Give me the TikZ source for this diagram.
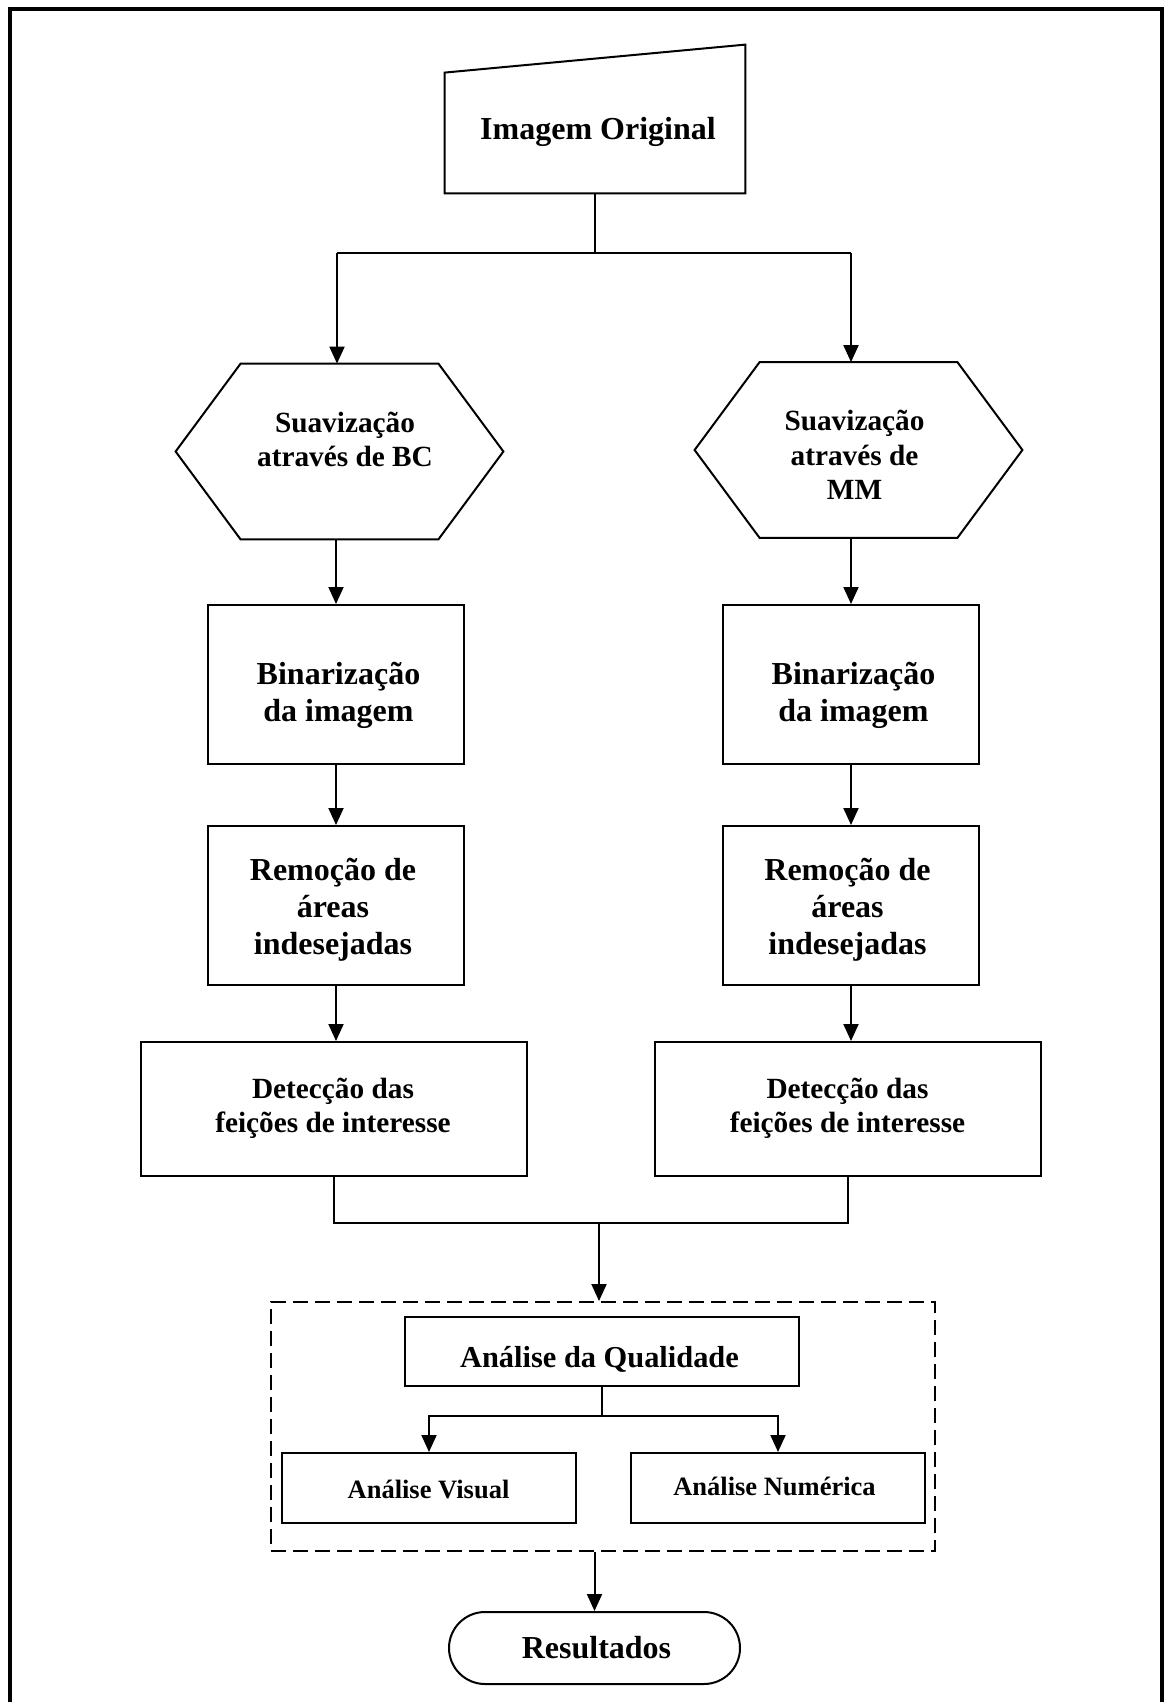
\documentclass[tikz,border=0pt]{standalone}
\usepackage{fontspec}
\setmainfont{Liberation Serif}
\usetikzlibrary{arrows.meta,calc}
\begin{document}
\begin{tikzpicture}[x=0.5pt,y=-0.5pt,
  ghost/.style={rectangle,inner sep=0pt},
  box/.style={rectangle,draw,line width=1pt,inner sep=0pt},
  ln/.style={line width=1pt},
  arr/.style={line width=1pt,-{Triangle[length=8.5pt,width=7.5pt]}},
  txtbig/.style={align=center,inner sep=0pt,font=\bfseries\fontsize{16}{18.5}\selectfont},
  txtmid/.style={align=center,inner sep=0pt,font=\bfseries\fontsize{14.65}{17.2}\selectfont},
  txtqual/.style={align=center,inner sep=0pt,font=\bfseries\fontsize{15.2}{18}\selectfont},
  txtsmall/.style={align=center,inner sep=0pt,font=\bfseries\fontsize{13.25}{16}\selectfont}]
\useasboundingbox (0,0) rectangle (1163,1702);
% outer frame
\draw[line width=2pt] (10,1702) -- (10,9) -- (1162,9) -- (1162,1702);

% Imagem Original (manual input shape)
\node[ghost,minimum width=150pt,minimum height=60pt] (orig) at (595,133) {};
\draw[ln] (orig.south west) -- (orig.north west) -- ($(orig.north east)+(0,-28)$) -- (orig.south east) -- cycle;
\node[txtbig] (origt) at (598,132) {Imagem Original};

% hexagons
\node[ghost,minimum width=163.5pt,minimum height=87.5pt] (hexL) at (339.5,451.5) {};
\draw[ln] (hexL.west) -- ($(hexL.north west)+(65,0)$) -- ($(hexL.north east)+(-65,0)$) -- (hexL.east) -- ($(hexL.south east)+(-65,0)$) -- ($(hexL.south west)+(65,0)$) -- cycle;
\node[txtmid] (hexLt) at (345,439.5) {Suavização\\através de BC};

\node[ghost,minimum width=163.5pt,minimum height=87.5pt] (hexR) at (858.5,450) {};
\draw[ln] (hexR.west) -- ($(hexR.north west)+(65,0)$) -- ($(hexR.north east)+(-65,0)$) -- (hexR.east) -- ($(hexR.south east)+(-65,0)$) -- ($(hexR.south west)+(65,0)$) -- cycle;
\node[txtmid] (hexRt) at (854.5,455) {Suavização\\através de\\MM};

% Binarizacao
\node[box,minimum width=128pt,minimum height=79.5pt] (binL) at (336,684.5) {};
\node[txtbig] (binLt) at (338.5,695) {Binarização\\da imagem};
\node[box,minimum width=128pt,minimum height=79.5pt] (binR) at (851,684.5) {};
\node[txtbig] (binRt) at (853.5,695) {Binarização\\da imagem};

% Remocao
\node[box,minimum width=128pt,minimum height=79.5pt] (remL) at (336,905.5) {};
\node[txtbig] (remLt) at (333,910) {Remoção de\\áreas\\indesejadas};
\node[box,minimum width=128pt,minimum height=79.5pt] (remR) at (851,905.5) {};
\node[txtbig] (remRt) at (847.5,910) {Remoção de\\áreas\\indesejadas};

% Deteccao
\node[box,minimum width=193pt,minimum height=67pt] (detL) at (334,1109) {};
\node[txtmid] (detLt) at (333,1108.5) {Detecção das\\feições de interesse};
\node[box,minimum width=193pt,minimum height=67pt] (detR) at (848,1109) {};
\node[txtmid] (detRt) at (847.5,1108.5) {Detecção das\\feições de interesse};

% dashed group
\node[rectangle,draw,line width=1pt,dash pattern=on 7.5pt off 3.5pt,inner sep=0pt,minimum width=332pt,minimum height=124.5pt] (grp) at (603,1426.5) {};
\node[box,minimum width=197pt,minimum height=34.5pt] (qual) at (602,1351.5) {};
\node[txtqual] (qualt) at (599.5,1359) {Análise da Qualidade};
\node[box,minimum width=147pt,minimum height=35pt] (vis) at (429,1488) {};
\node[txtsmall] (vist) at (428.5,1489) {Análise Visual};
\node[box,minimum width=147pt,minimum height=35pt] (num) at (778,1488) {};
\node[txtsmall] (numt) at (774.5,1486) {Análise Numérica};

% Resultados
\node[rectangle,draw,line width=1pt,rounded corners=18pt,inner sep=0pt,minimum width=145.5pt,minimum height=36pt] (res) at (594.5,1648) {};
\node[txtbig] (rest) at (596.5,1648) {Resultados};

% connectors
\coordinate (brL) at (337,253);
\coordinate (brR) at (851,253);
\draw[ln] (orig.south) |- (brL);
\draw[ln] (orig.south) |- (brR);
\draw[arr] (brL) -- (brL |- hexL.north);
\draw[arr] (brR) -- (brR |- hexR.north);

\draw[arr] (binL.north |- hexL.south) -- (binL.north);
\draw[arr] (binR.north |- hexR.south) -- (binR.north);
\draw[arr] (binL.south) -- (remL.north);
\draw[arr] (binR.south) -- (remR.north);
\draw[arr] (remL.south) -- (remL.south |- detL.north);
\draw[arr] (remR.south) -- (remR.south |- detR.north);

\coordinate (jn) at (599,1223);
\draw[ln] (detL.south) |- (jn);
\draw[ln] (detR.south) |- (jn);
\draw[arr] (jn) -- (jn |- grp.north);

\draw[arr] (qual.south) -- ++(0,29) -| (vis.north);
\draw[arr] (qual.south) -- ++(0,29) -| (num.north);

\draw[arr] (res.north |- grp.south) -- (res.north);
\end{tikzpicture}
\end{document}
